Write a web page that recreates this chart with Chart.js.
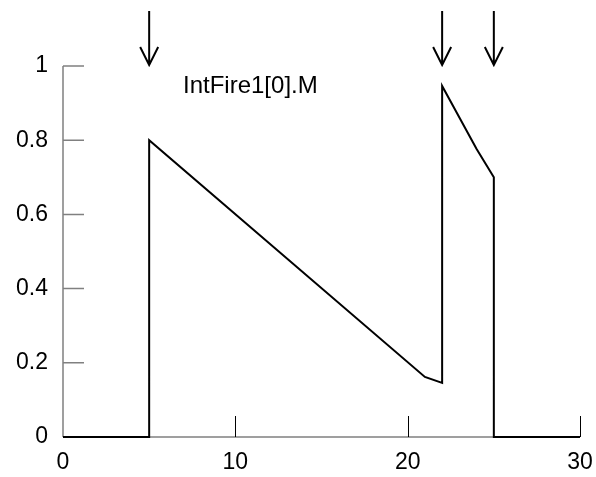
<!DOCTYPE html>
<html>
<head>
<meta charset="utf-8">
<script src="https://cdn.jsdelivr.net/npm/chart.js@4.4.0/dist/chart.umd.min.js"></script>
<style>
  html, body { margin: 0; padding: 0; background: #fff; }
  #wrap { width: 596px; height: 477px; }
</style>
</head>
<body>
<div id="wrap"><canvas id="chart" width="596" height="477"></canvas></div>
<script>
// state variable M of IntFire1[0] over time
const timeValues = [0, 5, 5, 21, 22, 22, 24, 25, 25, 30];
const mValues = [0, 0, 0.8, 0.162, 0.146, 0.946, 0.776, 0.70, 0, 0];

// input event times (arrows along the top)
const spikeTimes = [5, 22, 25];

const xTicks = [0, 10, 20, 30];
const yTicks = [0, 0.2, 0.4, 0.6, 0.8, 1];
const traceLabel = 'IntFire1[0].M';

const points = timeValues.map((t, i) => ({ x: t, y: mValues[i] }));
const labelFont = '"Liberation Sans", Arial, sans-serif';

// axis lines, inward ticks, arrows and the label
const decorPlugin = {
    id: 'decor',
    beforeDatasetsDraw(chart) {
        const ctx = chart.ctx;
        const xs = chart.scales.x;
        const ys = chart.scales.y;
        const area = chart.chartArea;
        ctx.save();
        // y axis + ticks (grey)
        ctx.strokeStyle = '#808080';
        ctx.lineWidth = 1.5;
        ctx.beginPath();
        ctx.moveTo(area.left, ys.getPixelForValue(1));
        ctx.lineTo(area.left, ys.getPixelForValue(0));
        yTicks.forEach(v => {
            const py = ys.getPixelForValue(v);
            ctx.moveTo(area.left, py);
            ctx.lineTo(area.left + 21, py);
        });
        // x axis line
        ctx.moveTo(area.left, ys.getPixelForValue(0));
        ctx.lineTo(xs.getPixelForValue(30), ys.getPixelForValue(0));
        ctx.stroke();
        // x ticks (thin, dark)
        ctx.strokeStyle = '#000';
        ctx.lineWidth = 1;
        ctx.beginPath();
        xTicks.slice(1).forEach(v => {
            const px = Math.round(xs.getPixelForValue(v)) + 0.5;
            ctx.moveTo(px, ys.getPixelForValue(0));
            ctx.lineTo(px, ys.getPixelForValue(0) - 21);
        });
        ctx.stroke();
        ctx.restore();
    },
    afterDraw(chart) {
        const ctx = chart.ctx;
        const xs = chart.scales.x;
        ctx.save();
        ctx.strokeStyle = '#000';
        ctx.lineWidth = 2;
        spikeTimes.forEach(t => {
            const px = xs.getPixelForValue(t);
            ctx.beginPath();
            ctx.moveTo(px, 11);
            ctx.lineTo(px, 65);
            ctx.moveTo(px - 9, 47);
            ctx.lineTo(px, 65);
            ctx.lineTo(px + 9, 47);
            ctx.stroke();
        });
        ctx.fillStyle = '#000';
        ctx.font = '24px ' + labelFont;
        ctx.textBaseline = 'middle';
        ctx.textAlign = 'left';
        ctx.fillText(traceLabel, 183, 86);
        ctx.restore();
    }
};

new Chart(document.getElementById('chart'), {
    type: 'scatter',
    data: {
        datasets: [{
            label: traceLabel,
            data: points,
            showLine: true,
            borderColor: '#000',
            borderWidth: 2,
            pointRadius: 0,
            tension: 0,
            clip: false
        }]
    },
    options: {
        responsive: false,
        animation: false,
        layout: { padding: { left: 0, top: 66, right: 16, bottom: 0 } },
        plugins: {
            legend: { display: false },
            tooltip: { enabled: false }
        },
        scales: {
            x: {
                type: 'linear',
                min: 0,
                max: 30,
                afterFit: s => { s.height = 40; s.paddingLeft = 0; s.paddingRight = 0; },
                afterBuildTicks: s => { s.ticks = xTicks.map(v => ({ value: v })); },
                grid: { display: false },
                border: { display: false },
                ticks: {
                    color: '#000',
                    padding: 4,
                    maxRotation: 0,
                    font: { family: labelFont, size: 23 }
                }
            },
            y: {
                type: 'linear',
                min: 0,
                max: 1,
                afterFit: s => { s.width = 63; s.paddingTop = 0; s.paddingBottom = 0; },
                afterBuildTicks: s => { s.ticks = yTicks.map(v => ({ value: v })); },
                grid: { display: false },
                border: { display: false },
                ticks: {
                    color: '#000',
                    padding: 7,
                    callback: v => String(v),
                    font: { family: labelFont, size: 23 }
                }
            }
        }
    },
    plugins: [decorPlugin]
});
</script>
</body>
</html>
